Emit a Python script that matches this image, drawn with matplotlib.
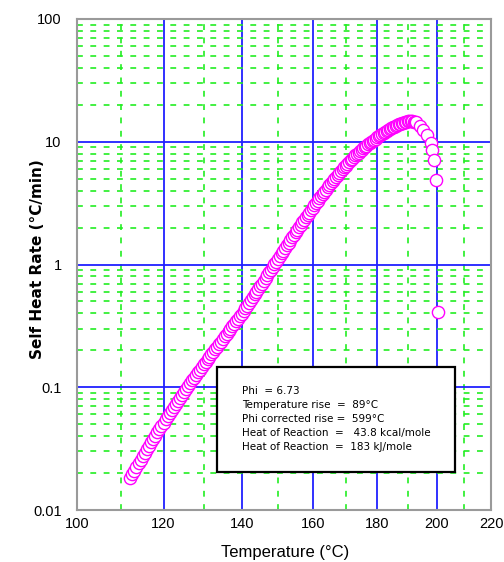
import matplotlib
matplotlib.use('Agg')

import matplotlib.pyplot as plt
import matplotlib.ticker as mticker
from matplotlib.patches import Rectangle
import numpy as np

plt.rcParams['font.family'] = ['Liberation Sans', 'DejaVu Sans']

# ARC self heat rate data (temperature in degC, rate in degC/min)
temps = [112, 112.5, 113, 113.5, 114, 114.5, 115, 115.5, 116, 116.5, 117, 117.5,
         118, 118.5, 119, 119.5, 120, 120.5, 121, 121.5, 122, 122.5, 123, 123.5,
         124, 124.5, 125, 125.5, 126, 126.5, 127, 127.5, 128, 128.5, 129, 129.5,
         130, 130.5, 131, 131.5, 132, 132.5, 133, 133.5, 134, 134.5, 135, 135.5,
         136, 136.5, 137, 137.5, 138, 138.5, 139, 139.5, 140, 140.5, 141, 141.5,
         142, 142.5, 143, 143.5, 144, 144.5, 145, 145.5, 146, 146.5, 147, 147.5,
         148, 148.5, 149, 149.5, 150, 150.5, 151, 151.5, 152, 152.5, 153, 153.5,
         154, 154.5, 155, 155.5, 156, 156.5, 157, 157.5, 158, 158.5, 159, 159.5,
         160, 160.5, 161, 161.5, 162, 162.5, 163, 163.5, 164, 164.5, 165, 165.5,
         166, 166.5, 167, 167.5, 168, 168.5, 169, 169.5, 170, 170.5, 171, 171.5,
         172, 172.5, 173, 173.5, 174, 174.5, 175, 175.5, 176, 176.5, 177, 177.5,
         178, 178.5, 179, 179.5, 180, 180.5, 181, 181.5, 182, 182.5, 183, 183.5,
         184, 184.5, 185, 185.5, 186, 186.5, 187, 187.5, 188, 188.5, 189, 189.5,
         190, 190.5, 191, 191.5, 192, 192.5, 193,
         194.2, 195.3, 196.7, 198.0, 198.4, 199.1, 199.8, 200.5]
rates = [0.0182, 0.0195, 0.0209, 0.0224, 0.0240, 0.0256, 0.0274, 0.0292, 0.0312,
         0.0333, 0.0355, 0.0378, 0.0403, 0.0429, 0.0456, 0.0485, 0.0515, 0.0547,
         0.0581, 0.0616, 0.0653, 0.0692, 0.0733, 0.0775, 0.0820, 0.0867, 0.0916,
         0.0967, 0.102, 0.1076, 0.1135, 0.1195, 0.1259, 0.1324, 0.1393, 0.1464,
         0.1538, 0.1614, 0.1694, 0.1776, 0.1862, 0.1952, 0.2046, 0.2145, 0.2249,
         0.2358, 0.2472, 0.2591, 0.2716, 0.2847, 0.2985, 0.3129, 0.328, 0.3441,
         0.361, 0.3781, 0.396, 0.4174, 0.440, 0.4634, 0.488, 0.5138, 0.541, 0.5698,
         0.600, 0.6317, 0.665, 0.6999, 0.738, 0.7775, 0.819, 0.8624, 0.908, 0.9553,
         1.005, 1.057, 1.112, 1.170, 1.230, 1.294, 1.361, 1.432, 1.507, 1.583,
         1.663, 1.745, 1.832, 1.921, 2.014, 2.109, 2.208, 2.312, 2.421, 2.532,
         2.649, 2.770, 2.897, 3.027, 3.162, 3.303, 3.451, 3.601, 3.758, 3.917,
         4.083, 4.251, 4.426, 4.603, 4.786, 4.971, 5.164, 5.358, 5.559, 5.761,
         5.970, 6.180, 6.397, 6.615, 6.839, 7.055, 7.278, 7.499, 7.727, 7.944,
         8.166, 8.385, 8.610, 8.831, 9.057, 9.279, 9.506, 9.727, 9.954, 10.17,
         10.40, 10.62, 10.84, 11.05, 11.27, 11.48, 11.69, 11.97, 12.25, 12.46,
         12.68, 12.88, 13.09, 13.29, 13.49, 13.68, 13.87, 14.03, 14.19, 14.32,
         14.45, 14.55, 14.66, 14.69, 14.72, 14.67, 14.62, 14.48, 14.35,
         13.49, 12.46, 11.35, 9.77, 8.57, 7.10, 4.88, 0.410]

info_lines = ["Phi  = 6.73",
              "Temperature rise  =  89\u00b0C",
              "Phi corrected rise =  599\u00b0C",
              "Heat of Reaction  =   43.8 kcal/mole",
              "Heat of Reaction  =  183 kJ/mole"]


# x axis is linear in -1/T (Kelvin), labelled in degC
def fwd(t):
    return -1000.0 / (np.asarray(t, dtype=float) + 273.15)


def inv(u):
    return -1000.0 / np.asarray(u, dtype=float) - 273.15


fig = plt.figure(figsize=(5.04, 5.62), dpi=100)
ax = fig.add_axes([77 / 504, 52 / 562, 414 / 504, 491 / 562])

ax.set_xscale('function', functions=(fwd, inv))
ax.set_yscale('log')
ax.set_xlim(100, 220)
ax.set_ylim(0.01, 100)

ax.xaxis.set_major_locator(mticker.FixedLocator([100, 120, 140, 160, 180, 200, 220]))
ax.xaxis.set_minor_locator(mticker.FixedLocator([110, 130, 150, 170, 190, 210]))
ax.xaxis.set_major_formatter(mticker.FormatStrFormatter('%d'))
ax.xaxis.set_minor_formatter(mticker.NullFormatter())
ax.yaxis.set_major_locator(mticker.FixedLocator([0.01, 0.1, 1, 10, 100]))
ax.yaxis.set_minor_locator(mticker.LogLocator(base=10, subs=np.arange(2, 10)))
ax.yaxis.set_major_formatter(mticker.FuncFormatter(lambda v, p: '%g' % v))
ax.yaxis.set_minor_formatter(mticker.NullFormatter())

ax.grid(which='major', color='#2020ff', lw=1.3, ls='-')
ax.grid(which='minor', color='#22ee22', lw=1.2, ls=(0, (3.5, 4.5)))
ax.set_axisbelow(True)
ax.tick_params(which='both', length=0, labelsize=10.5)
ax.tick_params(axis='y', pad=11)
ax.tick_params(axis='x', pad=5)
for s in ax.spines.values():
    s.set_color('#9a9a9a')
    s.set_linewidth(1.5)

ax.plot(temps, rates, 'o', ms=8.8, mfc='white', mec='#ff00ff', mew=1.0, zorder=3)

ax.set_xlabel('Temperature (\u00b0C)', fontsize=12)
ax.xaxis.set_label_coords(0.502, -0.072)
ax.set_ylabel('Self Heat Rate (\u00b0C/min)', fontsize=11, fontweight='bold',
              family=['DejaVu Sans'])
ax.yaxis.set_label_coords(-0.077, 0.511)

# info box
ax.add_patch(Rectangle((0.338, 0.077), 0.575, 0.214, transform=ax.transAxes,
                       facecolor='white', edgecolor='black', lw=1.6, zorder=5))
for i, line in enumerate(info_lines):
    ax.text(0.399, 0.2424 - i * 0.0285, line, transform=ax.transAxes,
            fontsize=7.5, family=['DejaVu Sans'], va='center', ha='left', zorder=6)

fig.savefig('out.png', dpi=100)
